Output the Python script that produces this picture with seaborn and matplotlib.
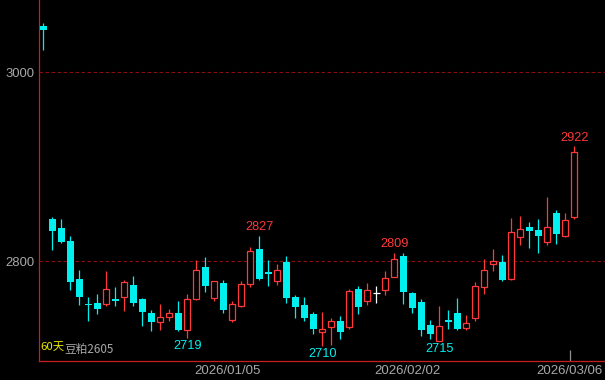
import matplotlib
matplotlib.use("Agg")
import matplotlib.pyplot as plt
import seaborn as sns
import numpy as np
import pandas as pd

# ---- data ----
opens  = [3049, 2844, 2835, 2821, 2781, 2755, 2756, 2754, 2760, 2762,
          2775, 2760, 2745, 2735, 2741, 2745, 2727, 2760, 2794, 2761,
          2777, 2738, 2752, 2776, 2813, 2788, 2779, 2799, 2762, 2753,
          2744, 2725, 2730, 2736, 2730, 2770, 2758, 2766, 2769, 2783,
          2805, 2766, 2757, 2732, 2715, 2738, 2745, 2729, 2740, 2773,
          2797, 2799, 2781, 2825, 2836, 2833, 2820, 2851, 2827, 2847]
highs  = [3052, 2847, 2844, 2826, 2790, 2762, 2765, 2789, 2772, 2780,
          2784, 2761, 2748, 2754, 2749, 2758, 2765, 2801, 2804, 2779,
          2780, 2758, 2779, 2815, 2827, 2801, 2797, 2805, 2764, 2762,
          2746, 2746, 2740, 2742, 2770, 2774, 2777, 2774, 2789, 2809,
          2808, 2767, 2760, 2738, 2752, 2748, 2761, 2743, 2778, 2802,
          2813, 2806, 2846, 2848, 2841, 2844, 2868, 2854, 2851, 2922]
lows   = [3023, 2812, 2819, 2769, 2753, 2736, 2744, 2752, 2752, 2747,
          2752, 2731, 2726, 2727, 2736, 2726, 2719, 2759, 2767, 2758,
          2745, 2735, 2751, 2772, 2780, 2774, 2775, 2756, 2740, 2737,
          2723, 2710, 2711, 2718, 2728, 2744, 2753, 2756, 2764, 2783,
          2755, 2745, 2721, 2717, 2715, 2728, 2727, 2727, 2736, 2765,
          2789, 2779, 2780, 2817, 2814, 2809, 2817, 2818, 2825, 2844]
closes = [3044, 2832, 2820, 2778, 2762, 2753, 2749, 2770, 2758, 2778,
          2756, 2746, 2735, 2741, 2745, 2727, 2760, 2790, 2774, 2779,
          2748, 2754, 2776, 2811, 2781, 2786, 2790, 2761, 2751, 2740,
          2728, 2728, 2736, 2725, 2768, 2751, 2769, 2766, 2782, 2802,
          2767, 2750, 2727, 2723, 2731, 2735, 2728, 2734, 2774, 2791,
          2800, 2780, 2831, 2834, 2832, 2826, 2836, 2829, 2843, 2915]

high_marks = [24, 39, 59]
low_marks = [16, 31, 44]
date_labels = ["2026/01/05", "2026/02/02", "2026/03/06"]
date_index = [21, 41, 59]
ytick_values = [2800, 3000]
title_days = "60天"
title_name = "豆粕2605"

df = pd.DataFrame({"open": opens, "high": highs, "low": lows, "close": closes})
df["idx"] = np.arange(len(df))

# ---- style ----
sns.set_theme(style="dark", rc={
    "axes.facecolor": "black",
    "figure.facecolor": "black",
    "savefig.facecolor": "black",
})
plt.rcParams["font.family"] = ["Liberation Sans", "Noto Sans CJK SC", "DejaVu Sans"]

RED = "#ff3838"
CYAN = "#00f0f0"
GRAY = "#a8a8a8"
SPINE = "#c81e1e"
GRID = "#8a0c0c"

fig = plt.figure(figsize=(6.05, 3.80), dpi=100)
ax = fig.add_axes([39 / 605, 19 / 380, 566 / 605, 361 / 380])
ax.set_facecolor("black")

up = df[df.close > df.open]
dn = df[df.close < df.open]
eq = df[df.close == df.open]

# wicks
ax.vlines(up.idx, up.low, up.high, color=RED, lw=0.9, zorder=2)
ax.vlines(dn.idx, dn.low, dn.high, color=CYAN, lw=0.9, zorder=2)
ax.vlines(eq.idx, eq.low, eq.high, color="white", lw=0.9, zorder=2)

# bodies
ax.bar(up.idx, up.close - up.open, bottom=up.open, width=0.68,
       facecolor="black", edgecolor=RED, linewidth=0.9, zorder=3)
dn_h = np.maximum(dn.open - dn.close, 1.0)
ax.bar(dn.idx, -dn_h, bottom=dn.open, width=0.78,
       color=CYAN, linewidth=0, zorder=3)
ax.hlines(eq.open, eq.idx - 0.39, eq.idx + 0.39, color="white", lw=0.9, zorder=3)

# annotations of extremes
for i in high_marks:
    ax.annotate(f"{highs[i]}", xy=(i, highs[i]), xytext=(0, 1.5),
                textcoords="offset points", ha="center", va="bottom",
                color=RED, fontsize=9.2, zorder=4)
for i in low_marks:
    ax.annotate(f"{lows[i]}", xy=(i, lows[i]), xytext=(0, -1.5),
                textcoords="offset points", ha="center", va="top",
                color=CYAN, fontsize=9.2, zorder=4)

# axes
ax.set_xlim(-0.48, 62.4)
ax.set_ylim(2694.2, 3076.2)
ax.set_yticks(ytick_values)
ax.set_yticklabels([str(v) for v in ytick_values], color=GRAY, fontsize=9.4)
date_pos = [d - 0.5 for d in date_index]
ax.set_xticks(date_pos)
ax.set_xticklabels(date_labels, color=GRAY, fontsize=9.5)
ax.tick_params(axis="both", length=0)
ax.tick_params(axis="y", pad=3)
ax.tick_params(axis="x", pad=3)
ax.grid(False)
ax.yaxis.grid(True, color=GRID, linestyle=(0, (3.2, 2.2)), linewidth=0.8)
ax.xaxis.grid(False)

for s in ["top", "right"]:
    ax.spines[s].set_visible(False)
for s in ["left", "bottom"]:
    ax.spines[s].set_visible(True)
    ax.spines[s].set_color(SPINE)
    ax.spines[s].set_linewidth(0.9)

# small marker tick at last date
ax.vlines([date_pos[-1]], 0, 0.03, transform=ax.get_xaxis_transform(),
          color="#909090", lw=0.9, zorder=2)

# title texts bottom-left
ax.text(0.002, 0.025, title_days, transform=ax.transAxes, color="#e8e800",
        fontsize=8.2, ha="left", va="bottom",
        family=["Noto Sans CJK SC", "DejaVu Sans"], zorder=6)
ax.text(0.044, 0.015, title_name, transform=ax.transAxes, color=GRAY,
        fontsize=8.4, ha="left", va="bottom",
        family=["Noto Sans CJK SC", "DejaVu Sans"], zorder=5)

fig.savefig("out.png", dpi=100, facecolor="black")
